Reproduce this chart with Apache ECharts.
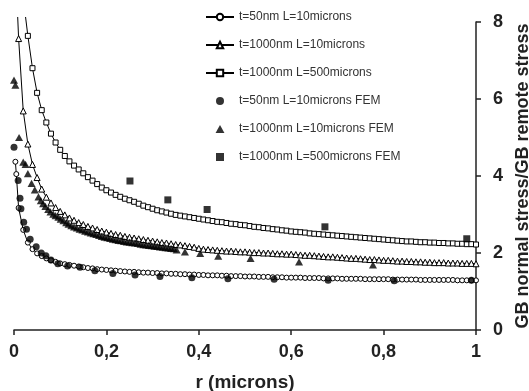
<!DOCTYPE html>
<html><head><meta charset="utf-8">
<script src="https://cdn.jsdelivr.net/npm/echarts@6/dist/echarts.min.js"></script>
<style>html,body{margin:0;padding:0;background:#fff}#c{width:529px;height:391px}</style>
</head><body><div id="c"></div>
<script>
// shared r grid of the model curves (microns)
const rGrid = [0.01,0.02,0.03,0.04,0.05,0.06,0.07,0.08,0.09,0.10,
0.11,0.12,0.13,0.14,0.15,0.16,0.17,0.18,0.19,0.20,
0.21,0.22,0.23,0.24,0.25,0.26,0.27,0.28,0.29,0.30,
0.31,0.32,0.33,0.34,0.35,0.36,0.37,0.38,0.39,0.40,
0.41,0.42,0.43,0.44,0.45,0.46,0.47,0.48,0.49,0.50,
0.51,0.52,0.53,0.54,0.55,0.56,0.57,0.58,0.59,0.60,
0.61,0.62,0.63,0.64,0.65,0.66,0.67,0.68,0.69,0.70,
0.71,0.72,0.73,0.74,0.75,0.76,0.77,0.78,0.79,0.80,
0.81,0.82,0.83,0.84,0.85,0.86,0.87,0.88,0.89,0.90,
0.91,0.92,0.93,0.94,0.95,0.96,0.97,0.98,0.99,1.00];

// t=50nm L=10microns (model)
const circleModel = [3.17,2.60,2.27,2.10,1.99,1.92,1.86,1.81,1.77,1.73,
1.71,1.69,1.67,1.65,1.63,1.61,1.60,1.58,1.57,1.56,
1.55,1.54,1.53,1.52,1.51,1.51,1.50,1.49,1.49,1.48,
1.48,1.47,1.47,1.46,1.46,1.45,1.45,1.44,1.44,1.43,
1.43,1.42,1.42,1.42,1.41,1.41,1.40,1.40,1.40,1.39,
1.39,1.39,1.38,1.38,1.38,1.37,1.37,1.37,1.36,1.36,
1.36,1.36,1.35,1.35,1.35,1.35,1.34,1.34,1.34,1.34,
1.33,1.33,1.33,1.33,1.33,1.32,1.32,1.32,1.32,1.32,
1.32,1.31,1.31,1.31,1.31,1.31,1.31,1.30,1.30,1.30,
1.30,1.30,1.30,1.30,1.30,1.29,1.29,1.29,1.29,1.29];
const circleLeadR = [0.003,0.005];
const circleLeadY = [4.37,4.05];

// t=1000nm L=10microns (model)
const triangleModel = [7.57,5.69,4.83,4.30,3.96,3.66,3.45,3.30,3.18,3.08,
2.99,2.91,2.85,2.79,2.74,2.69,2.65,2.61,2.57,2.54,
2.51,2.48,2.46,2.43,2.41,2.39,2.37,2.35,2.33,2.31,
2.29,2.27,2.26,2.24,2.22,2.21,2.19,2.17,2.15,2.12,
2.10,2.09,2.08,2.07,2.06,2.05,2.05,2.04,2.03,2.03,
2.02,2.01,2.01,2.00,2.00,1.99,1.98,1.98,1.97,1.97,
1.96,1.95,1.94,1.94,1.93,1.92,1.91,1.90,1.90,1.89,
1.88,1.87,1.86,1.86,1.85,1.84,1.83,1.83,1.82,1.81,
1.81,1.80,1.79,1.79,1.78,1.78,1.77,1.77,1.76,1.76,
1.75,1.75,1.75,1.74,1.74,1.74,1.73,1.73,1.73,1.72];

// t=1000nm L=500microns (model)
const squareModel = [null,null,7.64,6.80,6.16,5.71,5.39,5.10,4.87,4.68,
4.52,4.38,4.27,4.17,4.07,3.97,3.88,3.79,3.70,3.63,
3.57,3.51,3.46,3.41,3.37,3.33,3.28,3.23,3.19,3.15,
3.11,3.08,3.05,3.02,2.99,2.97,2.95,2.93,2.91,2.89,
2.87,2.85,2.83,2.81,2.80,2.78,2.76,2.75,2.73,2.72,
2.70,2.68,2.67,2.65,2.64,2.62,2.61,2.59,2.58,2.56,
2.55,2.54,2.53,2.51,2.50,2.49,2.48,2.47,2.46,2.45,
2.44,2.43,2.42,2.41,2.40,2.39,2.38,2.37,2.36,2.35,
2.34,2.33,2.32,2.31,2.30,2.30,2.29,2.28,2.28,2.27,
2.27,2.26,2.26,2.25,2.25,2.24,2.24,2.23,2.23,2.22];

// ends of the drawn curves that carry no marker
const triangleTop = [0.008, 8.13];
const squareTop = [0.025, 8.13];
const tailR = 1.012;
const circleTailY = 1.29, triangleTailY = 1.72, squareTailY = 2.22;

// FEM results
const femCircleR = [0.0,0.009,0.013,0.015,0.021,0.027,0.035,0.048,0.059,0.069,0.08,0.095,0.116,0.143,0.175,0.214,0.262,0.316,0.385,0.463,0.563,0.68,0.823,0.99];
const femCircleY = [4.75,3.88,3.42,3.15,2.80,2.62,2.36,2.16,2.00,1.93,1.82,1.72,1.66,1.63,1.54,1.47,1.43,1.39,1.36,1.33,1.32,1.29,1.28,1.29];

const femTriR = [0.0,0.003,0.011,0.02,0.025,0.03,0.038,0.045,0.053,0.058,0.063,0.068,0.074,0.079,0.085,0.090,0.096,0.101,0.107,0.113,0.118,0.124,0.130,0.136,0.142,0.148,0.154,0.160,0.166,0.172,0.178,0.184,0.190,0.196,0.202,0.208,0.214,0.220,0.226,0.232,0.238,0.244,0.250,0.256,0.262,0.268,0.274,0.280,0.286,0.292,0.298,0.304,0.310,0.316,0.322,0.328,0.334,0.340,0.346,0.352,0.370,0.403,0.442,0.512,0.617,0.777];
const femTriY = [6.49,6.36,5.00,4.36,4.30,4.06,3.81,3.64,3.46,3.36,3.28,3.21,3.13,3.07,3.01,2.97,2.93,2.88,2.84,2.79,2.75,2.71,2.68,2.65,2.62,2.60,2.57,2.55,2.52,2.50,2.48,2.46,2.43,2.41,2.40,2.38,2.36,2.35,2.33,2.32,2.30,2.29,2.28,2.27,2.26,2.25,2.23,2.22,2.21,2.20,2.19,2.18,2.17,2.16,2.15,2.14,2.13,2.12,2.11,2.08,2.03,1.99,1.92,1.86,1.77,1.69];

const femSqR = [0.251,0.333,0.418,0.673,0.98];
const femSqY = [3.87,3.38,3.13,2.68,2.37];

const names = ['t=50nm L=10microns','t=1000nm L=10microns','t=1000nm L=500microns',
  't=50nm L=10microns FEM','t=1000nm L=10microns FEM','t=1000nm L=500microns FEM'];

function pairs(xs, ys){ const out=[]; for(let i=0;i<xs.length;i++){ if(ys[i]!=null) out.push([xs[i],ys[i]]);} return out; }
const bare = (x,y)=>({value:[x,y], symbol:'none'});

const circleData = pairs(circleLeadR, circleLeadY).concat(pairs(rGrid, circleModel), [bare(tailR, circleTailY)]);
const triangleData = [bare(triangleTop[0], triangleTop[1])].concat(pairs(rGrid, triangleModel), [bare(tailR, triangleTailY)]);
const squareData = [bare(squareTop[0], squareTop[1])].concat(pairs(rGrid, squareModel), [bare(tailR, squareTailY)]);

const TRI = 'path://M5,0L10,9L0,9Z';
const SQ = 'path://M0,0L10,0L10,10L0,10Z';
const FONT = 'Liberation Sans, Arial, sans-serif';
const lineSeries = (name, data, symbol, size) => ({
  name, type:'line', data, symbol, symbolSize:size, showAllSymbol:true, clip:false,
  lineStyle:{color:'#000', width:1}, itemStyle:{color:'#fff', borderColor:'#000', borderWidth:1},
  emphasis:{disabled:true}, z:2
});
const femSeries = (name, xs, ys, symbol, size) => ({
  name, type:'scatter', data:pairs(xs, ys), symbol, symbolSize:size, symbolKeepAspect:true, clip:false,
  itemStyle:{color:'#000'}, emphasis:{disabled:true}, z:3
});

const chart = echarts.init(document.getElementById('c'), null, {renderer:'canvas'});
chart.setOption({
  animation:false,
  backgroundColor:'#fff',
  grid:{left:14, right:53, top:22, bottom:61, containLabel:false, outerBoundsMode:'none'},
  legend:{
    orient:'vertical', left:200, top:6, itemWidth:28, itemHeight:8, itemGap:16,
    textStyle:{fontSize:12, color:'#333', fontFamily:FONT},
    data:[names[0], names[1], names[2],
      {name:names[3], icon:'circle'},
      {name:names[4], icon:TRI},
      {name:names[5], icon:SQ}]
  },
  xAxis:{
    type:'value', min:0, max:1, interval:0.2,
    name:'r (microns)', nameLocation:'middle', nameGap:43,
    nameTextStyle:{fontSize:19, fontWeight:'bold', color:'#222', fontFamily:FONT},
    axisLine:{show:true, onZero:false, lineStyle:{color:'#222', width:1.5}},
    axisTick:{show:true, inside:false, length:5, lineStyle:{color:'#222', width:1.5}},
    axisLabel:{fontSize:18, fontWeight:'bold', color:'#222', fontFamily:FONT, margin:13,
      formatter:v => (v===0||v===1) ? String(v) : v.toFixed(1).replace('.',',')},
    splitLine:{show:false}
  },
  yAxis:{
    type:'value', position:'right', min:0, max:8, interval:2,
    name:'GB normal stress/GB remote stress', nameLocation:'middle', nameGap:36, nameRotate:90,
    nameTextStyle:{fontSize:18, fontWeight:'bold', color:'#222', fontFamily:FONT},
    axisLine:{show:true, onZero:false, lineStyle:{color:'#222', width:1.5}},
    axisTick:{show:true, inside:false, length:5, lineStyle:{color:'#222', width:1.5}},
    axisLabel:{fontSize:18, fontWeight:'bold', color:'#222', fontFamily:FONT, margin:17},
    splitLine:{show:false}
  },
  series:[
    lineSeries(names[0], circleData, 'circle', 5),
    lineSeries(names[1], triangleData, 'triangle', 6),
    lineSeries(names[2], squareData, 'rect', 5),
    femSeries(names[3], femCircleR, femCircleY, 'circle', 7),
    femSeries(names[4], femTriR, femTriY, TRI, 8),
    femSeries(names[5], femSqR, femSqY, SQ, 7)
  ]
});
</script></body></html>
